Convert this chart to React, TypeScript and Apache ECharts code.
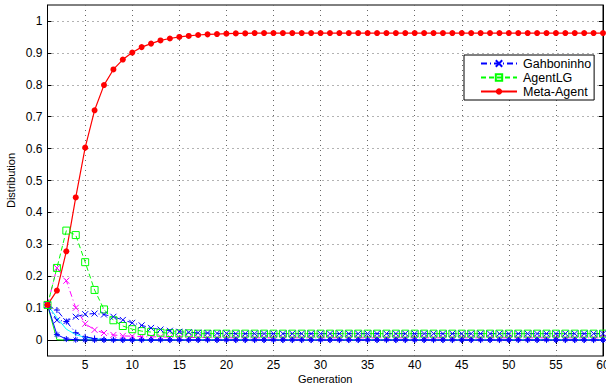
import React, { useEffect, useRef } from "react";
import * as echarts from "echarts";

const generations = [
  1, 2, 3, 4, 5, 6, 7, 8, 9, 10, 11, 12, 13, 14, 15, 16, 17, 18, 19, 20,
  21, 22, 23, 24, 25, 26, 27, 28, 29, 30, 31, 32, 33, 34, 35, 36, 37, 38, 39, 40,
  41, 42, 43, 44, 45, 46, 47, 48, 49, 50, 51, 52, 53, 54, 55, 56, 57, 58, 59, 60,
];

const xTicks = [5, 10, 15, 20, 25, 30, 35, 40, 45, 50, 55, 60];
const yTicks = [0, 0.1, 0.2, 0.3, 0.4, 0.5, 0.6, 0.7, 0.8, 0.9, 1];

const gahboninho = [
  0.11, 0.062, 0.059, 0.073, 0.081, 0.083, 0.08, 0.073, 0.063, 0.054,
  0.046, 0.038, 0.033, 0.029, 0.026, 0.024, 0.023, 0.022, 0.021, 0.021,
  0.02, 0.02, 0.02, 0.02, 0.02, 0.02, 0.02, 0.02, 0.02, 0.02,
  0.02, 0.02, 0.02, 0.02, 0.02, 0.02, 0.02, 0.02, 0.02, 0.02,
  0.02, 0.02, 0.02, 0.02, 0.02, 0.02, 0.02, 0.02, 0.02, 0.02,
  0.02, 0.02, 0.02, 0.02, 0.02, 0.02, 0.02, 0.02, 0.02, 0.02,
];

const agentLG = [
  0.11, 0.226, 0.343, 0.329, 0.244, 0.157, 0.096, 0.062, 0.044, 0.034,
  0.028, 0.025, 0.023, 0.022, 0.021, 0.021, 0.02, 0.02, 0.02, 0.02,
  0.02, 0.02, 0.02, 0.02, 0.02, 0.02, 0.02, 0.02, 0.02, 0.02,
  0.02, 0.02, 0.02, 0.02, 0.02, 0.02, 0.02, 0.02, 0.02, 0.02,
  0.02, 0.02, 0.02, 0.02, 0.02, 0.02, 0.02, 0.02, 0.02, 0.02,
  0.02, 0.02, 0.02, 0.02, 0.02, 0.02, 0.02, 0.02, 0.02, 0.02,
];

const metaAgent = [
  0.11, 0.155, 0.278, 0.447, 0.603, 0.72, 0.799, 0.848, 0.879, 0.901,
  0.918, 0.929, 0.939, 0.945, 0.95, 0.953, 0.956, 0.958, 0.959, 0.96,
  0.961, 0.961, 0.962, 0.962, 0.962, 0.962, 0.962, 0.962, 0.962, 0.962,
  0.962, 0.962, 0.962, 0.962, 0.962, 0.962, 0.962, 0.962, 0.962, 0.962,
  0.962, 0.962, 0.962, 0.962, 0.962, 0.962, 0.962, 0.962, 0.962, 0.962,
  0.962, 0.962, 0.962, 0.962, 0.962, 0.962, 0.962, 0.962, 0.962, 0.962,
];

const magentaAgent = [
  0.11, 0.226, 0.186, 0.101, 0.051, 0.032, 0.022, 0.016, 0.013, 0.012,
  0.011, 0.01, 0.01, 0.009, 0.009, 0.008, 0.008, 0.008, 0.007, 0.007,
  0.007, 0.007, 0.007, 0.007, 0.007, 0.007, 0.007, 0.007, 0.007, 0.007,
  0.007, 0.007, 0.007, 0.007, 0.007, 0.007, 0.007, 0.007, 0.007, 0.007,
  0.007, 0.007, 0.007, 0.007, 0.007, 0.007, 0.007, 0.007, 0.007, 0.007,
  0.007, 0.007, 0.007, 0.007, 0.007, 0.007, 0.007, 0.007, 0.007, 0.007,
];

const cyanAgent = [
  0.11, 0.07, 0.034, 0.017, 0.008, 0.004, 0.002, 0.001, 0, 0,
  0, 0, 0, 0, 0, 0, 0, 0, 0, 0,
  0, 0, 0, 0, 0, 0, 0, 0, 0, 0,
  0, 0, 0, 0, 0, 0, 0, 0, 0, 0,
  0, 0, 0, 0, 0, 0, 0, 0, 0, 0,
  0, 0, 0, 0, 0, 0, 0, 0, 0, 0,
];

const bluePlusAgent = [
  0.11, 0.094, 0.058, 0.023, 0.01, 0.005, 0.002, 0.001, 0, 0,
  0, 0, 0, 0, 0, 0, 0, 0, 0, 0,
  0, 0, 0, 0, 0, 0, 0, 0, 0, 0,
  0, 0, 0, 0, 0, 0, 0, 0, 0, 0,
  0, 0, 0, 0, 0, 0, 0, 0, 0, 0,
  0, 0, 0, 0, 0, 0, 0, 0, 0, 0,
];

const blueStarAgent = [
  0.11, 0.017, 0.003, 0.001, 0, 0, 0, 0, 0, 0,
  0, 0, 0, 0, 0, 0, 0, 0, 0, 0,
  0, 0, 0, 0, 0, 0, 0, 0, 0, 0,
  0, 0, 0, 0, 0, 0, 0, 0, 0, 0,
  0, 0, 0, 0, 0, 0, 0, 0, 0, 0,
  0, 0, 0, 0, 0, 0, 0, 0, 0, 0,
];

const greenSolidAgent = [
  0.11, 0.001, 0, 0, 0, 0, 0, 0, 0, 0,
  0, 0, 0, 0, 0, 0, 0, 0, 0, 0,
  0, 0, 0, 0, 0, 0, 0, 0, 0, 0,
  0, 0, 0, 0, 0, 0, 0, 0, 0, 0,
  0, 0, 0, 0, 0, 0, 0, 0, 0, 0,
  0, 0, 0, 0, 0, 0, 0, 0, 0, 0,
];

const X_SYM = "path://M0,0L10,10M10,0L0,10";
const PLUS_SYM = "path://M5,0L5,10M0,5L10,5";
const STAR_SYM = "path://M5,0L5,10M0,5L10,5M1.5,1.5L8.5,8.5M8.5,1.5L1.5,8.5";
const SQ_SYM = "path://M0,0L10,0L10,10L0,10Z";

const FONT = "Liberation Sans";

function pair(ys: number[]) {
  return generations.map((g, i) => [g, ys[i]]);
}

export default function App() {
  const ref = useRef<HTMLDivElement>(null);

  useEffect(() => {
    if (!ref.current) return;
    const chart = echarts.init(ref.current, undefined, { renderer: "svg" });

    const strokeSym = (color: string) => ({
      color: color,
      borderColor: color,
      borderWidth: 1,
    });

    const option = {
      animation: false,
      backgroundColor: "#fff",
      textStyle: { fontFamily: FONT },
      grid: {
        left: 47.5,
        right: 3,
        top: 5,
        bottom: 28,
        outerBoundsMode: "none",
        containLabel: false,
        show: true,
        borderColor: "#000",
        borderWidth: 1,
        backgroundColor: "transparent",
      },
      legend: {
        data: ["Gahboninho", "AgentLG", "Meta-Agent"],
        orient: "vertical",
        left: 464,
        top: 55,
        padding: [2, 3, 2, 16],
        itemGap: 1,
        itemWidth: 36,
        itemHeight: 8,
        backgroundColor: "#fff",
        borderColor: "#000",
        borderWidth: 1,
        textStyle: { fontFamily: FONT, fontSize: 12.5, color: "#000", padding: [0, 0, 0, 1] },
      },
      xAxis: [
        {
          type: "value",
          min: 1,
          max: 60,
          name: "Generation",
          nameLocation: "middle",
          nameGap: 17,
          nameMoveOverlap: false,
          nameTextStyle: { fontFamily: FONT, fontSize: 11, color: "#000", lineHeight: 11 },
          axisLine: { show: true, lineStyle: { color: "#000", width: 1 } },
          axisTick: {
            show: true,
            inside: true,
            length: 4,
            customValues: xTicks,
            lineStyle: { color: "#000" },
          },
          axisLabel: {
            customValues: xTicks,
            margin: 3,
            fontFamily: FONT,
            fontSize: 12,
            lineHeight: 12,
            color: "#000",
          },
          splitLine: {
            show: true,
            lineStyle: { color: "#666", type: [1, 4], width: 1 },
          },
        },
        {
          type: "value",
          position: "top",
          min: 1,
          max: 60,
          axisLine: { show: true, lineStyle: { color: "#000", width: 1 } },
          axisTick: {
            show: true,
            inside: true,
            length: 4,
            customValues: xTicks,
            lineStyle: { color: "#000" },
          },
          axisLabel: { show: false },
          splitLine: { show: false },
        },
      ],
      yAxis: [
        {
          type: "value",
          min: -0.05,
          max: 1.05,
          name: "Distribution",
          nameLocation: "middle",
          nameGap: 31,
          nameMoveOverlap: false,
          nameTextStyle: { fontFamily: FONT, fontSize: 11, color: "#000" },
          axisLine: { show: true, lineStyle: { color: "#000", width: 1 } },
          axisTick: {
            show: true,
            inside: true,
            length: 4,
            customValues: yTicks,
            lineStyle: { color: "#000" },
          },
          axisLabel: {
            customValues: yTicks,
            margin: 5,
            fontFamily: FONT,
            fontSize: 12,
            color: "#000",
          },
          splitLine: {
            show: true,
            lineStyle: { color: "#666", type: [1, 4], width: 1 },
          },
        },
        {
          type: "value",
          position: "right",
          min: -0.05,
          max: 1.05,
          axisLine: { show: true, lineStyle: { color: "#000", width: 1 } },
          axisTick: {
            show: true,
            inside: true,
            length: 4,
            customValues: yTicks,
            lineStyle: { color: "#000" },
          },
          axisLabel: { show: false },
          splitLine: { show: false },
        },
      ],
      series: [
        {
          name: "Agent green",
          type: "line",
          data: pair(greenSolidAgent),
          showSymbol: false,
          symbol: "none",
          lineStyle: { color: "#00ff00", width: 1 },
          itemStyle: { color: "#00ff00" },
        },
        {
          name: "Agent cyan",
          type: "line",
          data: pair(cyanAgent),
          symbol: "none",
          lineStyle: { color: "#00ffff", width: 1 },
          itemStyle: { color: "#00ffff" },
        },
        {
          name: "Agent magenta",
          type: "line",
          data: pair(magentaAgent),
          symbol: X_SYM,
          symbolSize: 6,
          lineStyle: { color: "#ff00ff", width: 1, type: [6, 3, 1, 3] },
          itemStyle: strokeSym("#ff00ff"),
        },
        {
          name: "AgentLG",
          type: "line",
          data: pair(agentLG),
          symbol: SQ_SYM,
          symbolSize: 7,
          lineStyle: { color: "#00ff00", width: 1, type: [5, 3] },
          itemStyle: { color: "rgba(255,255,255,0)", borderColor: "#00ff00", borderWidth: 1 },
        },
        {
          name: "Gahboninho",
          type: "line",
          data: pair(gahboninho),
          symbol: X_SYM,
          symbolSize: 6,
          lineStyle: { color: "#0000ff", width: 1, type: [6, 3, 1, 3] },
          itemStyle: strokeSym("#0000ff"),
        },
        {
          name: "Agent blue plus",
          type: "line",
          data: pair(bluePlusAgent),
          symbol: PLUS_SYM,
          symbolSize: 6,
          lineStyle: { color: "#0000ff", width: 1, type: [6, 3, 1, 3] },
          itemStyle: strokeSym("#0000ff"),
        },
        {
          name: "Agent blue star",
          type: "line",
          data: pair(blueStarAgent),
          symbol: STAR_SYM,
          symbolSize: 6,
          lineStyle: { color: "#0000ff", width: 1 },
          itemStyle: strokeSym("#0000ff"),
        },
        {
          name: "Meta-Agent",
          type: "line",
          data: pair(metaAgent),
          symbol: "circle",
          symbolSize: 6,
          lineStyle: { color: "#ff0000", width: 1.2 },
          itemStyle: { color: "#ff0000" },
        },
      ],
    };

    chart.setOption(option as any);
    return () => chart.dispose();
  }, []);

  return (
    <div
      ref={ref}
      style={{ position: "absolute", left: 0, top: 0, width: 606, height: 384 }}
    />
  );
}
